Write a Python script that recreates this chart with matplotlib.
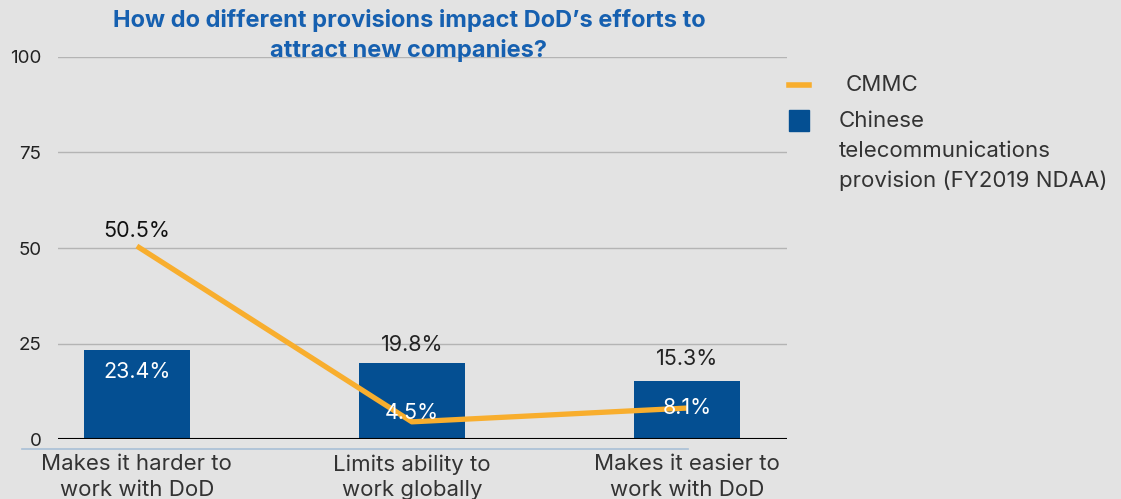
import matplotlib.pyplot as plt
from matplotlib.lines import Line2D
from matplotlib.patches import Rectangle
import numpy as np

categories = ["Makes it harder to\nwork with DoD", "Limits ability to\nwork globally", "Makes it easier to\nwork with DoD"]
chinese_provision = [23.4, 19.8, 15.3]
cmmc = [50.5, 4.5, 8.1]
y_ticks = [0, 25, 50, 75, 100]

blue = "#044f92"
orange = "#f8ae2e"
bg = "#e3e3e3"

plt.rcParams["font.family"] = ["Inter", "DejaVu Sans"]

fig = plt.figure(figsize=(11.21, 4.99), dpi=100, facecolor=bg)
ax = fig.add_axes([0.0517, 0.1202, 0.6503, 0.7656])
ax.set_facecolor("none")

x = np.arange(len(categories))
ax.bar(x, chinese_provision, width=0.386, color=blue, zorder=2)
ax.plot(x, cmmc, color=orange, lw=3.8, zorder=3, solid_capstyle="butt")

# labels des barres (décalages en points)
bar_offsets = [-16, 13, 15.5]
bar_colors = ["white", "#222222", "#222222"]
for i in range(3):
    ax.annotate(f"{chinese_provision[i]}%", (x[i], chinese_provision[i]), xytext=(0, bar_offsets[i]),
                textcoords="offset points", ha="center", va="center", color=bar_colors[i],
                fontsize=15.5, zorder=4)

# labels de la ligne
line_offsets = [11, 6.5, 0]
line_colors = ["#111111", "white", "white"]
for i in range(3):
    ax.annotate(f"{cmmc[i]}%", (x[i], cmmc[i]), xytext=(0, line_offsets[i]), textcoords="offset points",
                ha="center", va="center", color=line_colors[i], fontsize=15.5, zorder=4)

ax.set_xlim(-0.287, 2.364)
ax.set_ylim(0, 100)
ax.set_yticks(y_ticks)
ax.set_xticks(x)
ax.set_xticklabels(categories, fontsize=16, color="#333333", linespacing=1.35)
ax.tick_params(axis="x", length=0, pad=11)
ax.tick_params(axis="y", length=0, pad=12, labelsize=13.5, labelcolor="#222222")
ax.grid(axis="y", color="#b4b4b4", lw=1, zorder=0)
ax.set_axisbelow(True)
for s in ax.spines.values():
    s.set_visible(False)
ax.axhline(0, color="black", lw=1.5, zorder=3)

fig.add_artist(Line2D([22 / 1121, 688 / 1121], [50 / 499, 50 / 499], color="#a9bfd6", lw=1.2))

fig.text(409 / 1121, 1 - 20 / 499, "How do different provisions impact DoD\u2019s efforts to",
         ha="center", va="center", color="#1660b0", fontsize=17, fontweight="bold")
fig.text(409 / 1121, 1 - 51 / 499, "attract new companies?",
         ha="center", va="center", color="#1660b0", fontsize=17, fontweight="bold")

# légende manuelle
fig.add_artist(Line2D([789 / 1121, 809 / 1121], [1 - 85 / 499, 1 - 85 / 499], color=orange, lw=4))
fig.add_artist(Rectangle((789 / 1121, 1 - 131 / 499), 20 / 1121, 21 / 499, color=blue,
                         transform=fig.transFigure))
fig.text(846 / 1121, 1 - 85 / 499, "CMMC", ha="left", va="center", fontsize=16, color="#333333")
fig.text(839 / 1121, 1 - 111 / 499, "Chinese\ntelecommunications\nprovision (FY2019 NDAA)",
         ha="left", va="top", fontsize=16, color="#333333", linespacing=1.6)

fig.savefig("out.png", dpi=100, facecolor=bg)
